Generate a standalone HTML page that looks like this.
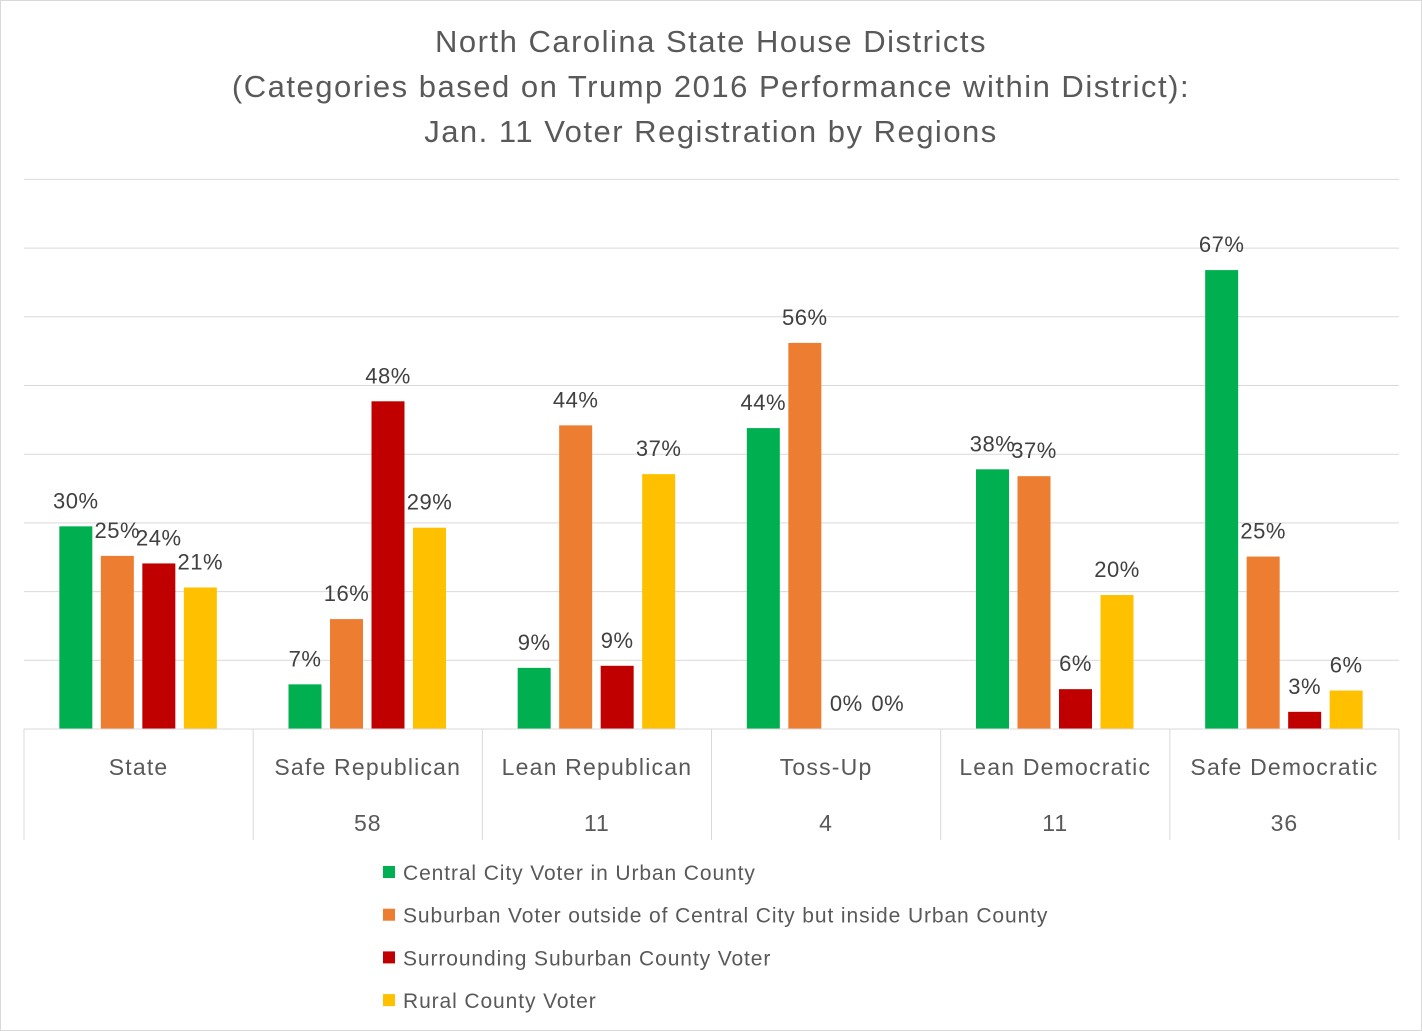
<!DOCTYPE html>
<html><head><meta charset="utf-8"><style>
body{margin:0;background:#fff}
svg{display:block;font-family:"Liberation Sans",sans-serif}
</style></head><body>
<svg id="c" width="1422" height="1031">
<rect x="0.5" y="0.5" width="1421" height="1030" fill="#fff" stroke="#d9d9d9"/>
<g fill="#595959" font-size="31" text-anchor="middle" letter-spacing="1.5">
<text x="711" y="52">North Carolina State House Districts</text>
<text x="711" y="97">(Categories based on Trump 2016 Performance within District):</text>
<text x="711" y="142">Jan. 11 Voter Registration by Regions</text>
</g>
<g id="grid"></g><g id="bars"></g><g id="axis"></g><g id="legend"></g>
</svg>
<script>
const categories=["State","Safe Republican","Lean Republican","Toss-Up","Lean Democratic","Safe Democratic"];
const counts=["","58","11","4","11","36"];
const seriesNames=["Central City Voter in Urban County","Suburban Voter outside of Central City but inside Urban County","Surrounding Suburban County Voter","Rural County Voter"];
const colors=["#00b050","#ed7d31","#c00000","#ffc000"];
const central=[29.5,6.5,8.9,43.8,37.8,66.8];
const suburban=[25.2,16.0,44.2,56.2,36.8,25.1];
const surrounding=[24.1,47.7,9.2,0,5.8,2.5];
const rural=[20.6,29.3,37.1,0,19.5,5.6];
const labCentral=["30%","7%","9%","44%","38%","67%"];
const labSuburban=["25%","16%","44%","56%","37%","25%"];
const labSurrounding=["24%","48%","9%","0%","6%","3%"];
const labRural=["21%","29%","37%","0%","20%","6%"];
const series=[central,suburban,surrounding,rural];
const labels=[labCentral,labSuburban,labSurrounding,labRural];
const ticks=[0,10,20,30,40,50,60,70,80];
const NS="http://www.w3.org/2000/svg";
const X0=24,X1=1399,Y0=729,PX=6.87;
const gw=(X1-X0)/categories.length;
const y=v=>Y0-v*PX;
function mk(p,t,a){const e=document.createElementNS(NS,t);for(const k in a)e.setAttribute(k,a[k]);p.appendChild(e);return e;}
const grid=document.getElementById('grid');
ticks.forEach(t=>{const l=mk(grid,'line',{x1:X0,x2:X1,y1:y(t),y2:y(t),stroke:'#d9d9d9','stroke-width':1});

});
const bars=document.getElementById('bars');
const bw=33,step=41.5;
categories.forEach((c,i)=>{const cx=X0+gw*(i+0.5);
series.forEach((s,j)=>{const bx=cx-2*step+j*step+(step-bw)/2-0.5;const v=s[i];
const r=mk(bars,'rect',{x:bx,y:y(v),width:bw,height:v*PX,fill:colors[j]});


const t=mk(bars,'text',{x:bx+bw/2,y:y(v)-18,'text-anchor':'middle','font-size':22,'letter-spacing':0.5,fill:'#404040'});t.textContent=labels[j][i];

});});
const ax=document.getElementById('axis');
for(let i=0;i<=categories.length;i++){const x=X0+gw*i;const l=mk(ax,'line',{x1:x,x2:x,y1:Y0,y2:840,stroke:'#d9d9d9'});

}
const bl=mk(ax,'line',{x1:X0,x2:X1,y1:Y0,y2:Y0,stroke:'#d9d9d9'});


categories.forEach((c,i)=>{const cx=X0+gw*(i+0.5);
const t=mk(ax,'text',{x:cx,y:775,'text-anchor':'middle','font-size':23,'letter-spacing':1.2,fill:'#595959'});t.textContent=c;


const n=mk(ax,'text',{x:cx,y:831,'text-anchor':'middle','font-size':23,'letter-spacing':1,fill:'#595959'});n.textContent=counts[i];

});
const lg=document.getElementById('legend');
seriesNames.forEach((s,j)=>{const yy=872+j*42.7;
const g=mk(lg,'g',{});


mk(g,'rect',{x:383,y:yy-6,width:12,height:12,fill:colors[j]});
const t=mk(g,'text',{x:403,y:yy+8,'font-size':21,'letter-spacing':0.9,fill:'#595959'});t.textContent=s;});
</script>
</body></html>
